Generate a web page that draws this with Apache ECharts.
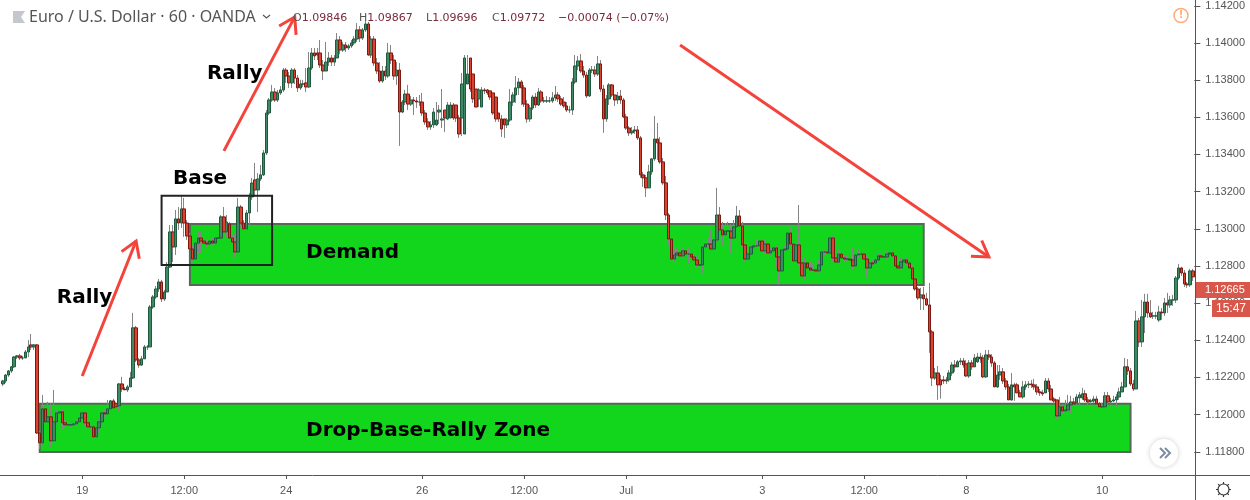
<!DOCTYPE html>
<html>
<head>
	<meta charset="utf-8" />
	<title>EUR/USD demand zones</title>
	<style type="text/css">
		html,body{margin:0;padding:0;background:#fff;}
		#chart{width:1250px;height:500px;}
	</style>
	<script src="https://cdn.jsdelivr.net/npm/echarts@6/dist/echarts.min.js"></script>
</head>
<body>
<div id="chart"></div>
<script>
// hourly candles
var opens = [
1.12165,1.12181,1.12213,1.12235,1.12257,1.12310,1.12316,1.12305,1.12305,1.12337,
1.12375,1.12364,1.12375,1.11901,1.11848,1.12031,1.11961,1.11988,1.11859,1.11961,
1.12009,1.12015,1.11956,1.11945,1.11945,1.11945,1.11950,1.11961,1.11982,1.12009,
1.11956,1.11934,1.11934,1.11880,1.11929,1.11961,1.12009,1.12004,1.12031,1.12074,
1.12058,1.12047,1.12165,1.12138,1.12133,1.12149,1.12197,1.12467,1.12294,1.12267,
1.12300,1.12364,1.12364,1.12579,1.12633,1.12676,1.12714,1.12622,1.12660,1.12794,
1.12983,1.12902,1.13053,1.13031,1.13107,1.13031,1.12961,1.12891,1.12837,1.12923,
1.12950,1.12934,1.12923,1.12918,1.12934,1.12923,1.12950,1.12950,1.13064,1.12983,
1.13026,1.12950,1.12929,1.12875,1.13117,1.13031,1.12999,1.13085,1.13171,1.13263,
1.13209,1.13268,1.13290,1.13408,1.13623,1.13693,1.13736,1.13693,1.13731,1.13747,
1.13854,1.13822,1.13785,1.13854,1.13811,1.13758,1.13779,1.13785,1.13763,1.13865,
1.13946,1.13946,1.13946,1.13881,1.13849,1.13897,1.13919,1.13897,1.13919,1.14016,
1.13962,1.13989,1.13973,1.13984,1.14000,1.14021,1.14070,1.14027,1.14070,1.14102,
1.13935,1.14021,1.13892,1.13849,1.13795,1.13849,1.13822,1.13946,1.13908,1.13822,
1.13854,1.13628,1.13682,1.13725,1.13671,1.13693,1.13688,1.13682,1.13682,1.13623,
1.13575,1.13548,1.13559,1.13559,1.13628,1.13585,1.13639,1.13591,1.13596,1.13666,
1.13666,1.13596,1.13596,1.13510,1.13779,1.13919,1.13833,1.13752,1.13699,1.13655,
1.13747,1.13747,1.13742,1.13731,1.13709,1.13623,1.13591,1.13591,1.13559,1.13585,
1.13682,1.13720,1.13758,1.13790,1.13758,1.13671,1.13591,1.13650,1.13709,1.13666,
1.13736,1.13688,1.13688,1.13688,1.13688,1.13704,1.13720,1.13699,1.13682,1.13661,
1.13639,1.13639,1.13790,1.13876,1.13903,1.13849,1.13827,1.13715,1.13854,1.13854,
1.13833,1.13887,1.13752,1.13591,1.13699,1.13774,1.13720,1.13693,1.13714,1.13693,
1.13602,1.13542,1.13516,1.13526,1.13532,1.13489,1.13290,1.13274,1.13220,1.13306,
1.13376,1.13483,1.13462,1.13360,1.13247,1.13074,1.12945,1.12837,1.12859,1.12870,
1.12854,1.12881,1.12864,1.12864,1.12848,1.12832,1.12805,1.12805,1.12902,1.12918,
1.12918,1.12891,1.12940,1.13074,1.12994,1.12967,1.12988,1.12988,1.12950,1.13010,
1.13069,1.13015,1.12913,1.12837,1.12864,1.12902,1.12908,1.12908,1.12934,1.12881,
1.12918,1.12870,1.12881,1.12897,1.12848,1.12773,1.12886,1.12891,1.12977,1.12918,
1.12827,1.12913,1.12816,1.12746,1.12816,1.12789,1.12778,1.12778,1.12773,1.12805,
1.12875,1.12875,1.12870,1.12950,1.12843,1.12821,1.12864,1.12843,1.12837,1.12837,
1.12832,1.12800,1.12859,1.12864,1.12864,1.12837,1.12789,1.12816,1.12816,1.12832,
1.12854,1.12848,1.12848,1.12864,1.12870,1.12854,1.12800,1.12789,1.12822,1.12832,
1.12816,1.12789,1.12730,1.12676,1.12628,1.12644,1.12623,1.12590,1.12445,1.12197,
1.12224,1.12187,1.12187,1.12181,1.12187,1.12224,1.12267,1.12257,1.12284,1.12289,
1.12273,1.12208,1.12278,1.12257,1.12284,1.12310,1.12305,1.12203,1.12321,1.12310,
1.12278,1.12149,1.12213,1.12230,1.12181,1.12149,1.12079,1.12160,1.12160,1.12117,
1.12095,1.12149,1.12160,1.12165,1.12160,1.12149,1.12122,1.12117,1.12117,1.12181,
1.12138,1.12084,1.12079,1.11993,1.12042,1.12020,1.12025,1.12052,1.12068,1.12063,
1.12090,1.12090,1.12112,1.12079,1.12073,1.12073,1.12084,1.12058,1.12042,1.12042,
1.12101,1.12068,1.12073,1.12079,1.12095,1.12122,1.12149,1.12257,1.12235,1.12165,
1.12138,1.12504,1.12391,1.12526,1.12606,1.12547,1.12531,1.12531,1.12509,1.12552,
1.12547,1.12601,1.12590,1.12617,1.12617,1.12735,1.12789,1.12762,1.12703,1.12698,
1.12773
];
var closes = [
1.12181,1.12213,1.12235,1.12257,1.12310,1.12316,1.12305,1.12305,1.12337,1.12364,
1.12364,1.12375,1.11901,1.11848,1.12031,1.11961,1.11988,1.11859,1.11961,1.12009,
1.12015,1.11956,1.11945,1.11945,1.11945,1.11950,1.11961,1.11982,1.12009,1.11956,
1.11934,1.11934,1.11880,1.11929,1.11961,1.12009,1.12004,1.12031,1.12074,1.12036,
1.12042,1.12165,1.12138,1.12133,1.12149,1.12197,1.12467,1.12294,1.12267,1.12300,
1.12364,1.12364,1.12579,1.12633,1.12676,1.12714,1.12622,1.12660,1.12794,1.12983,
1.12902,1.13053,1.13031,1.13107,1.13031,1.12961,1.12891,1.12837,1.12923,1.12950,
1.12934,1.12923,1.12918,1.12934,1.12923,1.12950,1.12950,1.13064,1.12983,1.13036,
1.12950,1.12929,1.12875,1.13117,1.13031,1.12999,1.13085,1.13171,1.13246,1.13209,
1.13268,1.13290,1.13408,1.13623,1.13693,1.13736,1.13693,1.13731,1.13747,1.13854,
1.13822,1.13785,1.13854,1.13811,1.13758,1.13779,1.13779,1.13763,1.13865,1.13946,
1.13930,1.13935,1.13881,1.13849,1.13897,1.13919,1.13897,1.13919,1.14016,1.13962,
1.13989,1.13973,1.13984,1.14000,1.14021,1.14070,1.14027,1.14070,1.14102,1.13935,
1.14021,1.13892,1.13849,1.13795,1.13849,1.13822,1.13946,1.13908,1.13822,1.13854,
1.13628,1.13682,1.13725,1.13671,1.13693,1.13688,1.13682,1.13682,1.13623,1.13575,
1.13548,1.13559,1.13628,1.13585,1.13639,1.13591,1.13596,1.13666,1.13666,1.13596,
1.13596,1.13510,1.13779,1.13919,1.13833,1.13752,1.13699,1.13655,1.13747,1.13747,
1.13742,1.13731,1.13709,1.13623,1.13591,1.13591,1.13537,1.13559,1.13585,1.13682,
1.13720,1.13758,1.13790,1.13758,1.13671,1.13591,1.13650,1.13709,1.13666,1.13736,
1.13688,1.13688,1.13688,1.13688,1.13704,1.13720,1.13699,1.13671,1.13661,1.13639,
1.13639,1.13790,1.13876,1.13903,1.13849,1.13827,1.13715,1.13854,1.13854,1.13833,
1.13887,1.13752,1.13591,1.13699,1.13774,1.13720,1.13693,1.13714,1.13693,1.13602,
1.13542,1.13516,1.13526,1.13532,1.13489,1.13290,1.13274,1.13220,1.13306,1.13376,
1.13483,1.13462,1.13360,1.13247,1.13074,1.12945,1.12837,1.12859,1.12870,1.12854,
1.12881,1.12864,1.12864,1.12848,1.12832,1.12805,1.12805,1.12902,1.12918,1.12918,
1.12891,1.12940,1.13074,1.12994,1.12967,1.12988,1.12988,1.12950,1.13010,1.13069,
1.13015,1.12913,1.12837,1.12864,1.12902,1.12908,1.12908,1.12934,1.12881,1.12918,
1.12870,1.12881,1.12897,1.12848,1.12773,1.12886,1.12891,1.12977,1.12918,1.12827,
1.12913,1.12816,1.12746,1.12816,1.12789,1.12778,1.12778,1.12773,1.12805,1.12875,
1.12875,1.12870,1.12950,1.12843,1.12821,1.12864,1.12843,1.12837,1.12837,1.12832,
1.12800,1.12859,1.12864,1.12864,1.12837,1.12789,1.12816,1.12811,1.12832,1.12854,
1.12848,1.12848,1.12864,1.12870,1.12854,1.12800,1.12789,1.12822,1.12832,1.12816,
1.12789,1.12730,1.12676,1.12628,1.12644,1.12623,1.12590,1.12445,1.12197,1.12224,
1.12160,1.12160,1.12181,1.12187,1.12224,1.12267,1.12257,1.12284,1.12289,1.12267,
1.12208,1.12278,1.12257,1.12305,1.12310,1.12300,1.12203,1.12321,1.12310,1.12278,
1.12149,1.12213,1.12230,1.12181,1.12149,1.12079,1.12160,1.12149,1.12117,1.12095,
1.12149,1.12160,1.12165,1.12160,1.12149,1.12122,1.12117,1.12112,1.12181,1.12138,
1.12079,1.12073,1.11993,1.12042,1.12020,1.12025,1.12052,1.12068,1.12058,1.12095,
1.12106,1.12112,1.12079,1.12068,1.12073,1.12084,1.12058,1.12042,1.12042,1.12101,
1.12068,1.12073,1.12079,1.12095,1.12122,1.12149,1.12257,1.12235,1.12165,1.12138,
1.12504,1.12391,1.12526,1.12606,1.12547,1.12526,1.12531,1.12531,1.12552,1.12547,
1.12601,1.12590,1.12617,1.12617,1.12735,1.12789,1.12762,1.12703,1.12698,1.12773,
1.12741
];
var lows = [
1.12154,1.12170,1.12203,1.12224,1.12251,1.12299,1.12294,1.12294,1.12305,1.12310,
1.12348,1.12348,1.11896,1.11815,1.11837,1.11896,1.11880,1.11826,1.11853,1.11950,
1.11999,1.11923,1.11934,1.11934,1.11934,1.11939,1.11945,1.11950,1.11971,1.11939,
1.11923,1.11923,1.11869,1.11880,1.11902,1.11934,1.11982,1.11982,1.12025,1.12020,
1.12015,1.12020,1.12122,1.12133,1.12122,1.12181,1.12192,1.12283,1.12252,1.12262,
1.12348,1.12348,1.12568,1.12568,1.12622,1.12660,1.12606,1.12611,1.12751,1.12789,
1.12821,1.12859,1.12994,1.13004,1.12956,1.12940,1.12886,1.12821,1.12832,1.12870,
1.12870,1.12886,1.12902,1.12897,1.12908,1.12897,1.12929,1.12940,1.12956,1.12950,
1.12940,1.12918,1.12843,1.12848,1.13004,1.12983,1.12994,1.13004,1.13155,1.13171,
1.13090,1.13257,1.13284,1.13397,1.13612,1.13682,1.13682,1.13682,1.13720,1.13736,
1.13785,1.13758,1.13758,1.13779,1.13736,1.13747,1.13763,1.13736,1.13758,1.13854,
1.13908,1.13908,1.13865,1.13801,1.13854,1.13876,1.13876,1.13876,1.13919,1.13940,
1.13951,1.13951,1.13962,1.13973,1.13989,1.14005,1.14005,1.14016,1.14059,1.13930,
1.13919,1.13876,1.13833,1.13785,1.13785,1.13801,1.13811,1.13887,1.13801,1.13774,
1.13446,1.13623,1.13666,1.13639,1.13661,1.13612,1.13650,1.13661,1.13607,1.13559,
1.13532,1.13532,1.13542,1.13553,1.13564,1.13542,1.13521,1.13585,1.13639,1.13585,
1.13575,1.13489,1.13499,1.13768,1.13801,1.13736,1.13677,1.13655,1.13655,1.13725,
1.13725,1.13720,1.13693,1.13612,1.13575,1.13575,1.13494,1.13489,1.13542,1.13575,
1.13661,1.13677,1.13720,1.13666,1.13655,1.13570,1.13575,1.13639,1.13650,1.13661,
1.13677,1.13677,1.13677,1.13677,1.13677,1.13688,1.13682,1.13661,1.13650,1.13628,
1.13623,1.13612,1.13779,1.13854,1.13838,1.13811,1.13704,1.13709,1.13838,1.13817,
1.13822,1.13736,1.13516,1.13575,1.13666,1.13709,1.13661,1.13671,1.13671,1.13596,
1.13532,1.13499,1.13505,1.13510,1.13478,1.13274,1.13225,1.13171,1.13220,1.13290,
1.13365,1.13370,1.13349,1.13236,1.13047,1.12913,1.12816,1.12821,1.12843,1.12832,
1.12843,1.12843,1.12811,1.12822,1.12822,1.12789,1.12778,1.12762,1.12789,1.12897,
1.12886,1.12875,1.12929,1.12983,1.12913,1.12940,1.12940,1.12870,1.12940,1.13004,
1.12983,1.12897,1.12822,1.12832,1.12854,1.12886,1.12897,1.12908,1.12875,1.12870,
1.12859,1.12859,1.12875,1.12789,1.12698,1.12768,1.12875,1.12875,1.12908,1.12778,
1.12822,1.12805,1.12730,1.12725,1.12778,1.12768,1.12768,1.12762,1.12762,1.12800,
1.12859,1.12854,1.12854,1.12822,1.12811,1.12811,1.12822,1.12822,1.12822,1.12816,
1.12778,1.12789,1.12843,1.12843,1.12822,1.12735,1.12778,1.12800,1.12805,1.12822,
1.12843,1.12832,1.12837,1.12854,1.12843,1.12795,1.12778,1.12778,1.12811,1.12805,
1.12778,1.12725,1.12666,1.12617,1.12563,1.12563,1.12585,1.12332,1.12154,1.12187,
1.12079,1.12085,1.12165,1.12165,1.12176,1.12208,1.12230,1.12257,1.12267,1.12252,
1.12203,1.12197,1.12240,1.12257,1.12278,1.12278,1.12197,1.12197,1.12294,1.12257,
1.12149,1.12143,1.12187,1.12165,1.12133,1.12106,1.12074,1.12074,1.12133,1.12095,
1.12085,1.12133,1.12143,1.12143,1.12133,1.12106,1.12100,1.12100,1.12117,1.12122,
1.12079,1.12058,1.11971,1.11950,1.12004,1.11950,1.12009,1.12009,1.12009,1.12052,
1.12009,1.12079,1.12068,1.12042,1.12058,1.12063,1.12047,1.12020,1.12031,1.12042,
1.12052,1.12058,1.12068,1.12042,1.12079,1.12122,1.12240,1.12213,1.12154,1.12127,
1.12375,1.12364,1.12364,1.12439,1.12520,1.12520,1.12515,1.12515,1.12499,1.12510,
1.12531,1.12547,1.12574,1.12585,1.12601,1.12725,1.12746,1.12687,1.12682,1.12687,
1.12719
];
var highs = [
1.12187,1.12219,1.12240,1.12262,1.12316,1.12321,1.12327,1.12316,1.12348,1.12402,
1.12434,1.12380,1.12380,1.11912,1.12106,1.11993,1.12069,1.12063,1.12133,1.12025,
1.12020,1.12031,1.11971,1.11961,1.11956,1.11961,1.11971,1.11987,1.12025,1.12020,
1.11966,1.11945,1.11945,1.11934,1.11971,1.12015,1.12025,1.12079,1.12079,1.12085,
1.12069,1.12170,1.12203,1.12149,1.12160,1.12230,1.12547,1.12477,1.12305,1.12316,
1.12375,1.12375,1.12590,1.12644,1.12692,1.12730,1.12725,1.12671,1.12821,1.13020,
1.13020,1.13101,1.13117,1.13182,1.13166,1.13047,1.12977,1.12913,1.12940,1.12983,
1.12983,1.12977,1.12940,1.12956,1.12950,1.12966,1.12966,1.13074,1.13117,1.13074,
1.13037,1.12966,1.12977,1.13166,1.13128,1.13047,1.13101,1.13193,1.13273,1.13354,
1.13300,1.13343,1.13424,1.13639,1.13704,1.13774,1.13757,1.13747,1.13768,1.13865,
1.13865,1.13844,1.13865,1.13865,1.13827,1.13801,1.13801,1.13865,1.13951,1.13973,
1.13973,1.13973,1.14016,1.13908,1.14005,1.13951,1.13935,1.13935,1.14053,1.14037,
1.14005,1.14005,1.13994,1.14016,1.14037,1.14107,1.14091,1.14080,1.14123,1.14113,
1.14037,1.14037,1.13919,1.13897,1.13876,1.13876,1.14000,1.13989,1.13935,1.13897,
1.13892,1.13693,1.13747,1.13774,1.13715,1.13709,1.13709,1.13720,1.13731,1.13639,
1.13596,1.13580,1.13650,1.13682,1.13666,1.13752,1.13628,1.13682,1.13682,1.13677,
1.13628,1.13612,1.13838,1.13935,1.13935,1.13854,1.13768,1.13715,1.13757,1.13763,
1.13757,1.13752,1.13736,1.13720,1.13639,1.13623,1.13612,1.13585,1.13596,1.13752,
1.13736,1.13822,1.13811,1.13801,1.13774,1.13693,1.13666,1.13720,1.13731,1.13758,
1.13747,1.13709,1.13714,1.13709,1.13736,1.13768,1.13736,1.13714,1.13709,1.13682,
1.13661,1.13811,1.13935,1.13930,1.13940,1.13876,1.13844,1.13865,1.13876,1.13876,
1.13930,1.13908,1.13774,1.13720,1.13784,1.13779,1.13720,1.13736,1.13747,1.13704,
1.13618,1.13553,1.13548,1.13553,1.13553,1.13499,1.13306,1.13290,1.13344,1.13381,
1.13607,1.13569,1.13494,1.13381,1.13284,1.13085,1.12956,1.12886,1.12897,1.12897,
1.12902,1.12902,1.12902,1.12897,1.12870,1.12859,1.12832,1.12821,1.12940,1.12950,
1.13000,1.12956,1.13220,1.13117,1.13037,1.13031,1.13037,1.13026,1.13047,1.13123,
1.13101,1.13037,1.12924,1.12875,1.12913,1.12929,1.12940,1.12956,1.12956,1.12940,
1.12940,1.12897,1.12913,1.12913,1.12859,1.12902,1.12913,1.13004,1.13004,1.12956,
1.12994,1.13128,1.12854,1.12843,1.12843,1.12821,1.12811,1.12805,1.12832,1.12886,
1.12886,1.12886,1.12962,1.12962,1.12865,1.12886,1.12886,1.12859,1.12854,1.12854,
1.12897,1.12908,1.12886,1.12902,1.12886,1.12854,1.12832,1.12837,1.12854,1.12865,
1.12865,1.12870,1.12881,1.12881,1.12881,1.12870,1.12816,1.12843,1.12848,1.12848,
1.12832,1.12800,1.12741,1.12687,1.12682,1.12687,1.12655,1.12708,1.12456,1.12251,
1.12262,1.12214,1.12208,1.12203,1.12240,1.12283,1.12294,1.12294,1.12305,1.12305,
1.12294,1.12294,1.12294,1.12326,1.12332,1.12332,1.12321,1.12348,1.12348,1.12326,
1.12289,1.12267,1.12267,1.12251,1.12197,1.12165,1.12224,1.12171,1.12171,1.12133,
1.12181,1.12181,1.12181,1.12187,1.12192,1.12165,1.12138,1.12133,1.12197,1.12197,
1.12160,1.12095,1.12074,1.12095,1.12058,1.12079,1.12106,1.12101,1.12090,1.12112,
1.12122,1.12144,1.12133,1.12095,1.12085,1.12101,1.12101,1.12068,1.12063,1.12122,
1.12122,1.12090,1.12101,1.12112,1.12144,1.12176,1.12305,1.12299,1.12251,1.12187,
1.12558,1.12520,1.12617,1.12650,1.12650,1.12617,1.12553,1.12553,1.12585,1.12574,
1.12628,1.12655,1.12639,1.12644,1.12746,1.12811,1.12795,1.12778,1.12714,1.12784,
1.12784
];
// one blank category per hour, a label only where the time scale prints one
var tickIndexes = [28,64,100,148,184,220,268,304,340,388];
var tickLabels = ['19','12:00','24','26','12:00','Jul','3','12:00','8','10'];
var priceTicks = [1.118,1.12,1.122,1.124,1.126,1.128,1.13,1.132,1.134,1.136,1.138,1.14,1.142];
// zones: first hour, last hour, top price, bottom price
var zones = [[66,325,1.13026,1.12698],[13,398,1.12058,1.11799]];
var zoneNames = ['Demand','Drop-Base-Rally Zone'];
var zoneLabelAt = [[107,1.12870],[107,1.11912]];
var baseBox = [[56,95,1.13177,1.12805]];
// arrows: from hour, from price, to hour, to price
var arrows = [[28,1.12208,47,1.12934],[78,1.13419,103,1.14140],[239,1.13989,348,1.12848]];
var noteTexts = ['Rally','Rally','Base'];
var noteAt = [[19,1.12630],[72,1.13836],[60,1.13268]];
var lastPrice = '1.12665';
var countdown = '15:47';

var categories = [];
for (var k = 0; k < closes.length; k++) categories.push('');
tickIndexes.forEach(function(idx, n){ categories[idx] = tickLabels[n]; });

var wickData = [], bodyData = [];
closes.forEach(function(c, i){
	wickData.push([opens[i], c, lows[i], highs[i]]);
	bodyData.push([opens[i], c, Math.min(opens[i], c), Math.max(opens[i], c)]);
});

var labelFont = 'Liberation Sans';
var noteFont = 'bold 20px "DejaVu Sans"';
var hasLabel = function(i, val){ return val !== ''; };

function renderZone(params, api){
	var a = api.coord([api.value(0), api.value(2)]);
	var b = api.coord([api.value(1), api.value(3)]);
	return {type:'rect', shape:{x:a[0], y:a[1], width:b[0]-a[0], height:b[1]-a[1]},
		style:{fill:'#12d61b', stroke:'#56685a', lineWidth:2}};
}
function renderBox(params, api){
	var a = api.coord([api.value(0), api.value(2)]);
	var b = api.coord([api.value(1), api.value(3)]);
	return {type:'rect', shape:{x:a[0], y:a[1], width:b[0]-a[0], height:b[1]-a[1]},
		style:{fill:'none', stroke:'#222', lineWidth:2}};
}
function renderArrow(params, api){
	var a = api.coord([api.value(0), api.value(1)]);
	var b = api.coord([api.value(2), api.value(3)]);
	var ang = Math.atan2(b[1]-a[1], b[0]-a[0]) + Math.PI;
	var arm = function(d){ return [b[0]+18*Math.cos(ang+d), b[1]+18*Math.sin(ang+d)]; };
	var st = {fill:'none', stroke:'#f4433a', lineWidth:3};
	return {type:'group', children:[
		{type:'line', shape:{x1:a[0], y1:a[1], x2:b[0], y2:b[1]}, style:st},
		{type:'polyline', shape:{points:[arm(-0.56), b, arm(0.56)]}, style:st}
	]};
}
function renderNote(texts){
	return function(params, api){
		var p = api.coord([api.value(0), api.value(1)]);
		return {type:'text', x:p[0], y:p[1], style:{text:texts[params.dataIndex], font:noteFont, fill:'#000', verticalAlign:'middle'}};
	};
}

var chrome = [
	{type:'line', shape:{x1:0,y1:475.5,x2:1250,y2:475.5}, style:{stroke:'#555',lineWidth:1}, z:50},
	{type:'line', shape:{x1:1195.5,y1:0,x2:1195.5,y2:500}, style:{stroke:'#555',lineWidth:1}, z:50},
	// symbol header
	{type:'polygon', shape:{points:[[13,11],[25,11],[21,17],[25,23],[13,23]]}, style:{fill:'#c4c8ce'}, z:50},
	{type:'text', x:29, y:17, style:{text:'Euro / U.S. Dollar · 60 · OANDA', font:'16px "Noto Sans"', fill:'#555', verticalAlign:'middle'}, z:50},
	{type:'polyline', shape:{points:[[263,15],[266.5,18],[270,15]]}, style:{fill:'none',stroke:'#555',lineWidth:1.2}, z:50},
	{type:'text', x:293, y:18, style:{text:'{a|O}{b|1.09846}', font:'11px "DejaVu Sans"', verticalAlign:'middle', rich:{a:{fill:'#555'},b:{fill:'#7a2a3c'}}}, z:50},
	{type:'text', x:359, y:18, style:{text:'{a|H}{b|1.09867}', font:'11px "DejaVu Sans"', verticalAlign:'middle', rich:{a:{fill:'#555'},b:{fill:'#7a2a3c'}}}, z:50},
	{type:'text', x:426, y:18, style:{text:'{a|L}{b|1.09696}', font:'11px "DejaVu Sans"', verticalAlign:'middle', rich:{a:{fill:'#555'},b:{fill:'#7a2a3c'}}}, z:50},
	{type:'text', x:492, y:18, style:{text:'{a|C}{b|1.09772}', font:'11px "DejaVu Sans"', verticalAlign:'middle', rich:{a:{fill:'#555'},b:{fill:'#7a2a3c'}}}, z:50},
	{type:'text', x:558, y:18, style:{text:'−0.00074 (−0.07%)', font:'11px "DejaVu Sans"', fill:'#7a2a3c', verticalAlign:'middle'}, z:50},
	// warning badge
	{type:'circle', shape:{cx:1181,cy:15.5,r:7}, style:{fill:'#fff',stroke:'#ffab76',lineWidth:1.5}, z:50},
	{type:'text', x:1181, y:15.5, style:{text:'!', font:'bold 10px "DejaVu Sans"', fill:'#ffab76', align:'center', verticalAlign:'middle'}, z:50},
	// last price tag and countdown
	{type:'rect', shape:{x:1196,y:282,width:54,height:16}, style:{fill:'#d9574a'}, z:60},
	{type:'text', x:1205, y:290, style:{text:lastPrice, font:'11px "Liberation Sans"', fill:'#fff', verticalAlign:'middle'}, z:61},
	{type:'rect', shape:{x:1212,y:300,width:38,height:17}, style:{fill:'#d9574a'}, z:60},
	{type:'text', x:1216, y:309, style:{text:countdown, font:'12px "Liberation Sans"', fill:'#fff', verticalAlign:'middle'}, z:61},
	// scroll button
	{type:'circle', shape:{cx:1164,cy:453,r:14}, style:{fill:'#fff',shadowBlur:5,shadowColor:'rgba(0,0,0,0.2)'}, z:50},
	{type:'polyline', shape:{points:[[1160,448],[1165,453],[1160,458]]}, style:{fill:'none',stroke:'#7b8ca3',lineWidth:2}, z:51},
	{type:'polyline', shape:{points:[[1165,448],[1170,453],[1165,458]]}, style:{fill:'none',stroke:'#7b8ca3',lineWidth:2}, z:51},
	// settings gear
	{type:'circle', shape:{cx:1223.5,cy:489.5,r:5.5}, style:{fill:'#fff',stroke:'#333',lineWidth:1.2}, z:50}
];
[0,1,2,3,4,5,6,7].forEach(function(n){
	var t = n*Math.PI/4;
	chrome.push({type:'line', shape:{x1:1223.5+5.5*Math.cos(t),y1:489.5+5.5*Math.sin(t),x2:1223.5+7.5*Math.cos(t),y2:489.5+7.5*Math.sin(t)}, style:{stroke:'#333',lineWidth:1.2}, z:50});
});

var myChart = echarts.init(document.getElementById('chart'), null, {renderer:'canvas'});
myChart.setOption({
	animation: false,
	backgroundColor: '#fff',
	grid: {left:1.5, top:0, width:1192.8, height:475},
	xAxis: {
		type:'category', data:categories, boundaryGap:true,
		axisLine:{show:false},
		axisTick:{show:true, alignWithLabel:true, interval:hasLabel, length:4, lineStyle:{color:'#555'}},
		axisLabel:{show:true, interval:hasLabel, margin:10, fontFamily:labelFont, fontSize:11, color:'#555', hideOverlap:false},
		splitLine:{show:false}
	},
	yAxis: {
		type:'value', position:'right', min:1.11675, max:1.14231, scale:true,
		axisLine:{show:false},
		axisTick:{show:true, length:6, customValues:priceTicks, lineStyle:{color:'#555'}},
		axisLabel:{show:true, margin:11, fontFamily:labelFont, fontSize:11, color:'#555', customValues:priceTicks,
			formatter:function(v){ return v.toFixed(5); }},
		splitLine:{show:false}
	},
	series: [
		{type:'custom', name:'zones', z:1, data:zones, renderItem:renderZone, silent:true, clip:false,
			encode:{x:[0,1], y:[2,3]}},
		{type:'custom', name:'zoneNames', z:1.5, data:zoneLabelAt, renderItem:renderNote(zoneNames), silent:true, clip:false,
			encode:{x:0, y:1}},
		{type:'candlestick', name:'wicks', z:2, data:wickData, barWidth:1,
			itemStyle:{color:'#858585', color0:'#858585', borderColor:'#858585', borderColor0:'#858585', borderWidth:1}},
		{type:'candlestick', name:'EURUSD', z:3, data:bodyData, barWidth:3,
			itemStyle:{color:'#3f8a64', color0:'#d9432f', borderColor:'#1f5a3e', borderColor0:'#7c1a12', borderWidth:1}},
		{type:'custom', name:'box', z:4, data:baseBox, renderItem:renderBox, silent:true, clip:false,
			encode:{x:[0,1], y:[2,3]}},
		{type:'custom', name:'arrows', z:5, data:arrows, renderItem:renderArrow, silent:true, clip:false,
			encode:{x:[0,2], y:[1,3]}},
		{type:'custom', name:'notes', z:5, data:noteAt, renderItem:renderNote(noteTexts), silent:true, clip:false,
			encode:{x:0, y:1}}
	],
	graphic: {elements: chrome}
});
</script>
</body>
</html>
